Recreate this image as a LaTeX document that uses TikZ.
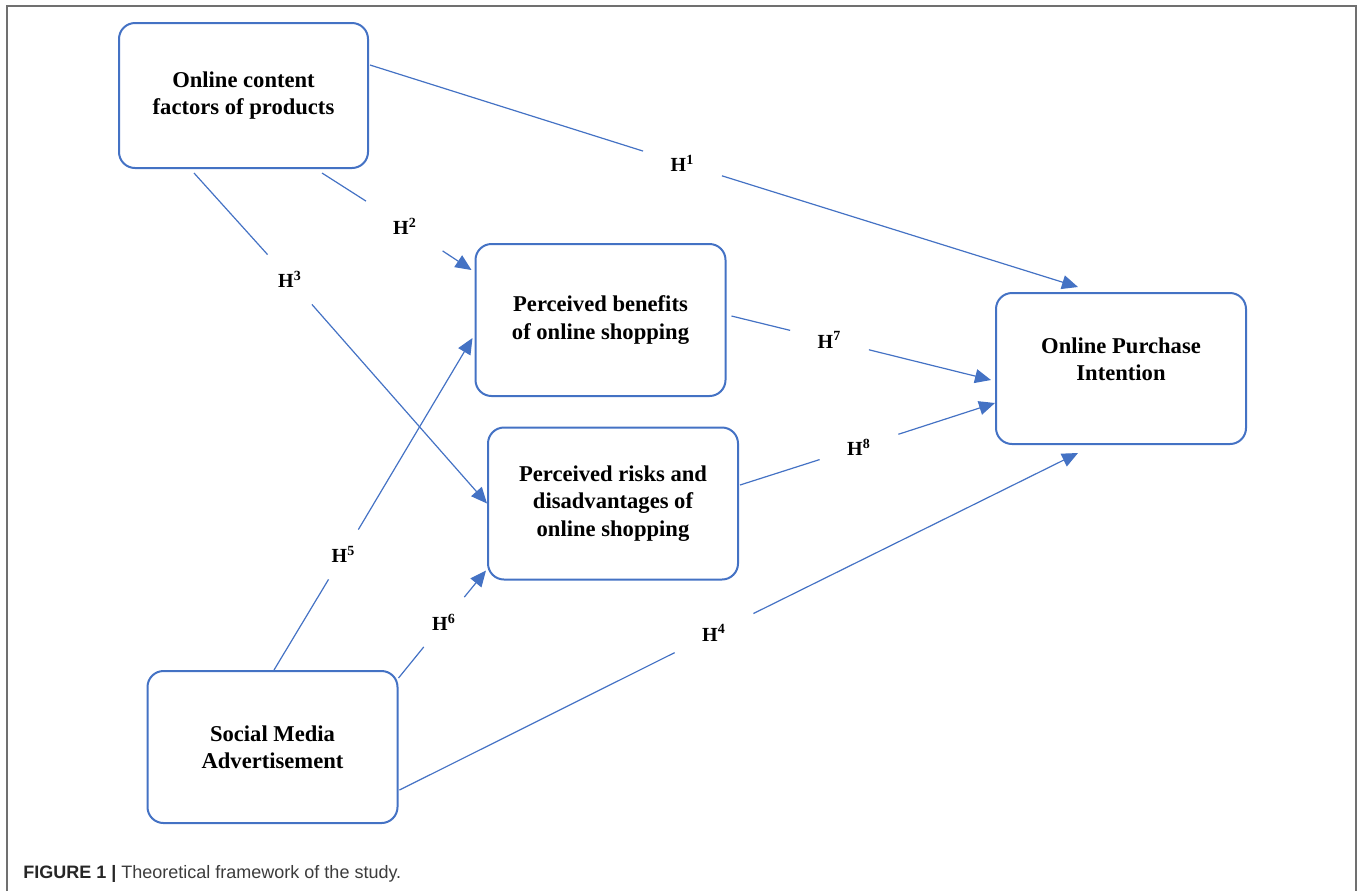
\documentclass[tikz,border=0pt]{standalone}
\usepackage{fontspec}
\setmainfont{Liberation Serif}
\setsansfont{Liberation Sans}
\usepackage{tikz}
\usetikzlibrary{arrows.meta}
\usetikzlibrary{positioning}
\usetikzlibrary{calc}

\definecolor{boxblue}{HTML}{4472C4}
\definecolor{framegray}{HTML}{707070}
\definecolor{capgray}{HTML}{3C3C3C}

\newcommand{\boxfont}{\fontsize{11.3}{13.6}\selectfont\bfseries}
\newcommand{\hypfont}{\fontsize{10}{11}\selectfont\bfseries}

\tikzset{
  box/.style={draw=boxblue, line width=1pt, rounded corners=8pt, minimum width=125pt, minimum height=76pt, inner sep=0pt, align=center, font=\boxfont},
  boxtext/.style={align=center, inner sep=0pt, font=\boxfont},
  hyp/.style={minimum width=39pt, minimum height=24.5pt, inner sep=0pt, font=\hypfont},
  link/.style={draw=boxblue, line width=0.6pt},
  arr/.style={link, -{Triangle[length=8pt,width=7pt]}},
  frame/.style={draw=framegray, line width=0.8pt}
}

\begin{document}
\begin{tikzpicture}[x=0.5pt,y=-0.5pt]
       \useasboundingbox (0,0) rectangle (1358,891);
       \draw[frame] (7,891) -- (7,6) -- (1356,6) -- (1356,891);

       % constructs
       \node[box, minimum width=124.5pt, minimum height=72.5pt] (content) at (243.5,95.5) {Online content\\factors of products};
       \node[box] (benefit) at (600.5,320) {Perceived benefits\\of online shopping};
       \node[box] (risk) at (613,503.5) {Perceived risks and\\disadvantages of\\online shopping};
       \node[box, minimum height=75.5pt] (intent) at (1121,368.5) {};
       \node[boxtext] (intenttxt) at (1121,359.5) {Online Purchase\\Intention};
       \node[box] (social) at (272.5,747) {Social Media\\Advertisement};

       % hypotheses
       \node[hyp] (h1) at (682.5,163.5) {H\textsuperscript{1}};
       \node[hyp] (h2) at (405,226) {H\textsuperscript{2}};
       \node[hyp] (h3) at (290,279.5) {H\textsuperscript{3}};
       \node[hyp] (h4) at (714,633) {H\textsuperscript{4}};
       \node[hyp] (h5) at (343.5,554.5) {H\textsuperscript{5}};
       \node[hyp] (h6) at (444,622) {H\textsuperscript{6}};
       \node[hyp] (h7) at (829.5,340) {H\textsuperscript{7}};
       \node[hyp] (h8) at (859,447) {H\textsuperscript{8}};

       \coordinate (c1) at ($(content.east)+(1,-30.5)$);
       \coordinate (c2) at ($(content.south)+(78.5,4)$);
       \coordinate (c3) at ($(content.south)+(-49.5,4)$);
       \coordinate (s4) at ($(social.east)+(1,43)$);
       \coordinate (s5) at ($(social.north)+(1.5,0)$);
       \coordinate (s6) at ($(social.north east)+(0,8)$);
       \coordinate (b7) at ($(benefit.east)+(5,-4)$);
       \coordinate (r8) at ($(risk.east)+(1,-18.5)$);

       \coordinate (i1) at ($(intent.north)+(-43,-5)$);
       \coordinate (b2) at ($(benefit.west)+(-3,-50)$);
       \coordinate (i4) at ($(intent.south)+(-43,8)$);
       \coordinate (b5) at ($(benefit.west)+(-2,18)$);
       \coordinate (r6) at ($(risk.south west)+(-1,-10)$);
       \coordinate (i7) at ($(intent.west)+(-4,11.5)$);
       \coordinate (i8) at ($(intent.west)+(0,34.5)$);

       \draw[link] (c1) -- (h1);
       \draw[arr] (h1) -- (i1);
       \draw[link] (c2) -- (h2);
       \draw[arr] (h2) -- (b2);
       \draw[link] (c3) -- (h3);
       \draw[arr] (h3) -- (risk.west);
       \draw[link] (s4) -- (h4);
       \draw[arr] (h4) -- (i4);
       \draw[link] (s5) -- (h5);
       \draw[arr] (h5) -- (b5);
       \draw[link] (s6) -- (h6);
       \draw[arr] (h6) -- (r6);
       \draw[link] (b7) -- (h7);
       \draw[arr] (h7) -- (i7);
       \draw[link] (r8) -- (h8);
       \draw[arr] (h8) -- (i8);

       \node[anchor=base west, inner sep=0pt, font=\sffamily\fontsize{9}{11}\selectfont, text=capgray] (caption) at (23,878) {\textbf{\color{black!85}FIGURE 1 |} Theoretical framework of the study.};
\end{tikzpicture}
\end{document}
